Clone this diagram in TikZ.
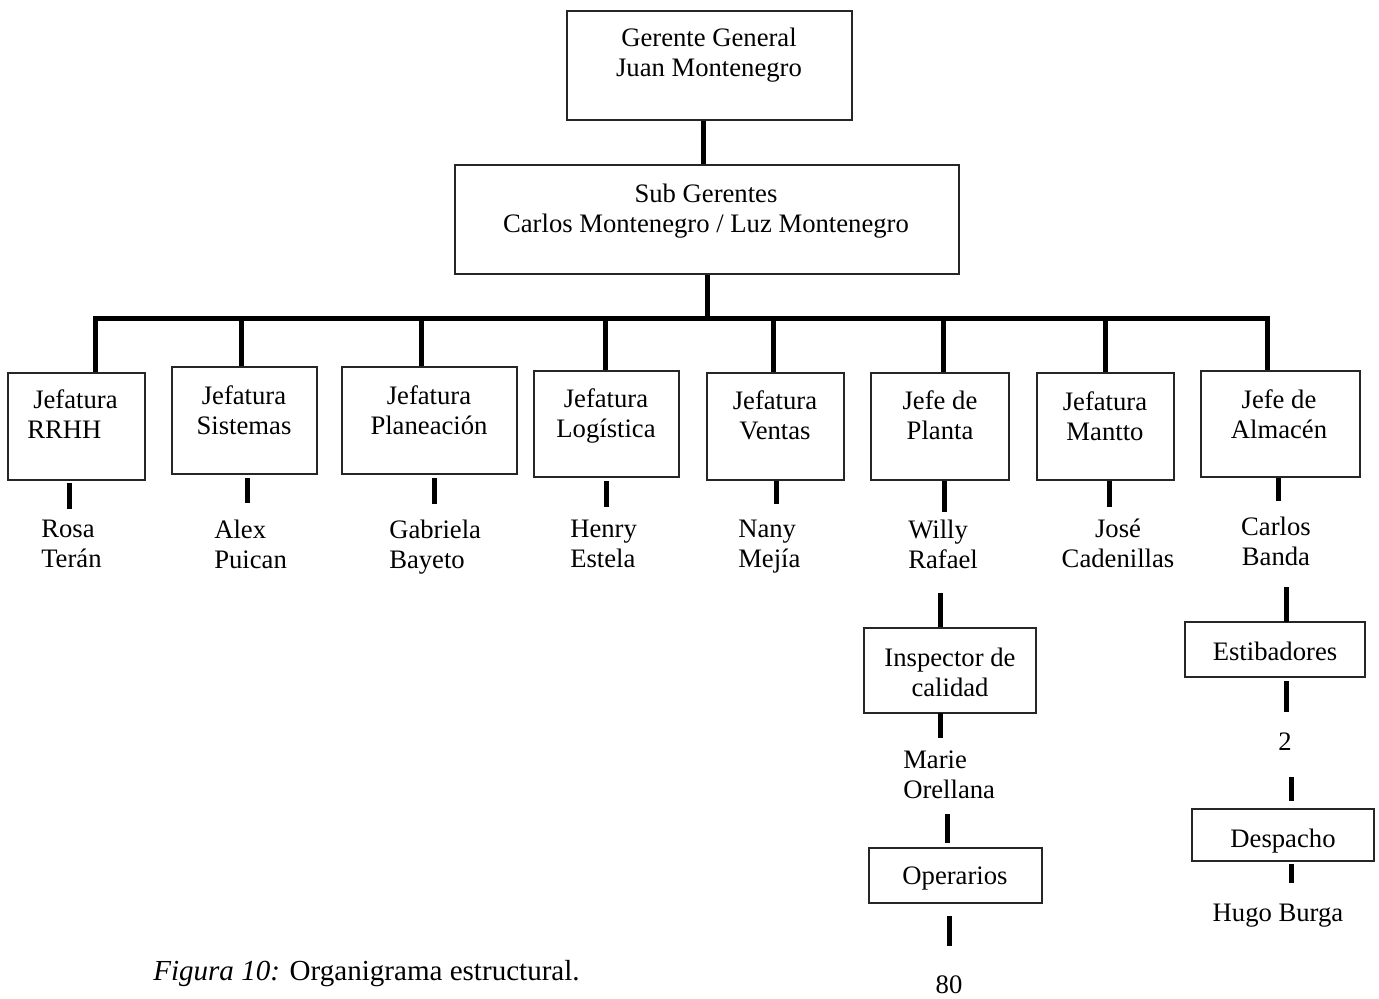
\documentclass[tikz,border=0pt]{standalone}
\usepackage{fontspec}
\setmainfont{Liberation Serif}
% box from its corners (x1,y1)-(x2,y2), in the picture's pixel units
\newcommand\orgbox[5]{%
  \node[box, minimum width={(#4-#2)*0.75pt}, minimum height={(#5-#3)*0.75pt}]
    (#1) at ({(#2+#4)/2},{(#3+#5)/2}) {};}
\begin{document}
\begin{tikzpicture}[x=0.75pt,y=-0.75pt,
  box/.style={draw=black!85, line width=0.8pt, rectangle, inner sep=0pt},
  conn/.style={line width=3.75pt, line join=miter},
  lbl/.style={inner sep=0pt, anchor=north, align=center, yshift=-2.5pt,
    font=\fontsize{20}{22.5}\selectfont,
    execute at begin node={\rule{0pt}{15pt}}},
  lbll/.style={lbl, anchor=north west, align=left}]

\fill[white] (0,0) rectangle (1379,999);
\useasboundingbox (0,0) rectangle (1379,999);

% ---- boxes ----
\orgbox{gg}{567}{11}{852}{120}
\orgbox{sg}{455}{165}{959}{274}
\orgbox{rrhh}{8}{373}{145}{480}
\orgbox{sis}{172}{367}{317}{474}
\orgbox{plan}{342}{367}{517}{474}
\orgbox{log}{534}{371}{679}{477}
\orgbox{ven}{707}{373}{844}{480}
\orgbox{planta}{871}{373}{1009}{480}
\orgbox{mantto}{1037}{373}{1174}{480}
\orgbox{alm}{1201}{371}{1360}{477}
\orgbox{insp}{864}{628}{1036}{713}
\orgbox{oper}{869}{848}{1042}{903}
\orgbox{estib}{1185}{622}{1365}{677}
\orgbox{desp}{1192}{809}{1374}{861}

% ---- box texts ----
\node[lbl] (tgg) at (709,24) {Gerente General\\Juan Montenegro};
\node[lbl] (tsg) at (706,180) {Sub Gerentes\\Carlos Montenegro / Luz Montenegro};
\node[lbll] (trrhh) at (27,386) {\hspace{4.5pt}Jefatura\\RRHH};
\node[lbl] (tsis) at (244,382) {Jefatura\\Sistemas};
\node[lbl] (tplan) at (429,382) {Jefatura\\Planeación};
\node[lbl] (tlog) at (606,385) {Jefatura\\Logística};
\node[lbl] (tven) at (775,387) {Jefatura\\Ventas};
\node[lbl] (tplanta) at (940,387) {Jefe de\\Planta};
\node[lbl] (tmantto) at (1105,388) {Jefatura\\Mantto};
\node[lbl] (talm) at (1279,386) {Jefe de\\Almacén};
\node[lbl] (tinsp) at (950,644) {Inspector de\\calidad};
\node[lbl] (toper) at (955,861) {Operarios};
\node[lbl] (testib) at (1275,637) {Estibadores};
\node[lbl] (tdesp) at (1283,824) {Despacho};

% ---- people and head counts ----
\node[lbll] (nrosa) at (41,516) {Rosa\\Terán};
\node[lbll] (nalex) at (214,516) {Alex\\Puican};
\node[lbll] (ngab) at (389,516) {Gabriela\\Bayeto};
\node[lbll] (nhenry) at (570,516) {Henry\\Estela};
\node[lbll] (nnany) at (738,516) {Nany\\Mejía};
\node[lbll] (nwilly) at (908,516) {Willy\\Rafael};
\node[lbl] (njose) at (1118,515) {José\\Cadenillas};
\node[lbl] (ncarlos) at (1276,513) {Carlos\\Banda};
\node[lbll] (nmarie) at (903,747) {Marie\\Orellana};
\node[lbl] (n80) at (949,970) {80};
\node[lbl] (n2) at (1285,727) {2};
\node[lbl] (nhugo) at (1278,898) {Hugo Burga};

% ---- caption ----
\node[anchor=base west, inner sep=0pt, font=\fontsize{21.8}{25}\selectfont]
  (cap) at (153,980) {\textit{Figura 10:} Organigrama estructural.};

% ---- tree connectors ----
\coordinate (j1) at (703,0);
\coordinate (j2) at (707,318);
\coordinate (d1) at (95.5,318);
\coordinate (d2) at (241,318);
\coordinate (d3) at (421,318);
\coordinate (d4) at (605,318);
\coordinate (d5) at (773,318);
\coordinate (d6) at (943.5,318);
\coordinate (d7) at (1105,318);
\coordinate (d8) at (1267,318);

\draw[conn] (gg.south -| j1) -- (sg.north -| j1);
\draw[conn] (sg.south -| j2) -- (j2);
\draw[conn] (rrhh.north -| d1) -- (d1) -- (d8) -- (alm.north -| d8);
\draw[conn] (d2) -- (sis.north -| d2);
\draw[conn] (d3) -- (plan.north -| d3);
\draw[conn] (d4) -- (log.north -| d4);
\draw[conn] (d5) -- (ven.north -| d5);
\draw[conn] (d6) -- (planta.north -| d6);
\draw[conn] (d7) -- (mantto.north -| d7);

% ---- short stubs below the boxes and names ----
\foreach \x/\ya/\yb in {69/483/509, 247.5/478/503, 434.5/478/504, 606/481/507,
    776/481/504, 944/481/512, 1109/481/507, 1278/478/501,
    940/593/627, 940/713/738, 947/814/843, 949/916/946,
    1286/587/622, 1286/681/712, 1291/777/801, 1291/864/883}
  \draw[conn] (\x,\ya) -- (\x,\yb);

\end{tikzpicture}
\end{document}
